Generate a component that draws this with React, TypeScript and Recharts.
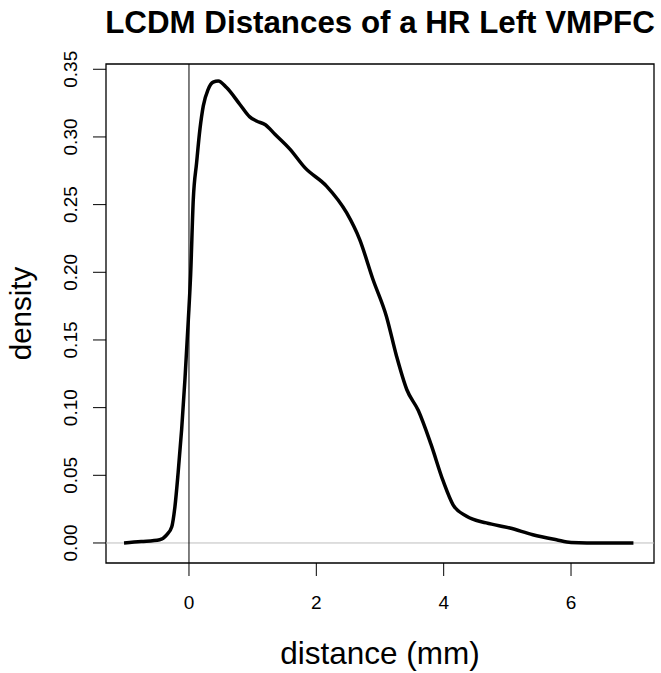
import React from "react";
import { LineChart, Line, XAxis, YAxis, ReferenceLine, ReferenceArea } from "recharts";

const distance = [
  -1.02, -0.75, -0.46, -0.35, -0.27, -0.22, -0.17, -0.115, -0.063, -0.01, 0.026, 0.068, 0.12, 0.173,
  0.225, 0.3, 0.38, 0.46, 0.59, 0.8, 0.95, 1.06, 1.2, 1.35, 1.585, 1.82, 2.16, 2.475, 2.68, 2.89,
  3.1, 3.26, 3.42, 3.6, 3.8, 3.99, 4.15, 4.36, 4.67, 5.04, 5.4, 5.77, 6.0, 6.5, 6.98,
];
const density = [
  0.0, 0.001, 0.0024, 0.006, 0.012, 0.027, 0.052, 0.084, 0.121, 0.165, 0.198, 0.254, 0.281, 0.306,
  0.323, 0.335, 0.3405, 0.3414, 0.3365, 0.324, 0.315, 0.3118, 0.309, 0.302, 0.291, 0.2773, 0.2637,
  0.244, 0.2243, 0.1947, 0.1676, 0.138, 0.1134, 0.098, 0.073, 0.046, 0.028, 0.0197, 0.0148,
  0.0111, 0.0061, 0.0024, 0.0004, 0.0, 0.0,
];
const xTicks = [0, 2, 4, 6];
const yTicks = [0, 0.05, 0.1, 0.15, 0.2, 0.25, 0.3, 0.35];
const yTickLabels = ["0.00", "0.05", "0.10", "0.15", "0.20", "0.25", "0.30", "0.35"];
const xDomain: [number, number] = [-1.303, 7.303];
const yDomain: [number, number] = [-0.0148, 0.3539];

const title = "LCDM Distances of a HR Left VMPFC";
const xLabel = "distance (mm)";
const yLabel = "density";

const data = distance.map((d, i) => ({ x: d, y: density[i] }));
const FONT = "'Liberation Sans', Arial, sans-serif";

const XTick = (props: any) => {
  const { x, y, payload } = props;
  return (
    <text x={x} y={y + 31} textAnchor="middle" fontFamily={FONT} fontSize={19} fill="#000">
      {String(payload.value)}
    </text>
  );
};

const YTick = (props: any) => {
  const { x, y, payload } = props;
  const idx = yTicks.findIndex((t) => Math.abs(t - payload.value) < 1e-9);
  const label = idx >= 0 ? yTickLabels[idx] : String(payload.value);
  const bx = x - 14;
  return (
    <text
      x={bx}
      y={y}
      transform={`rotate(-90 ${bx} ${y})`}
      textAnchor="middle"
      fontFamily={FONT}
      fontSize={19}
      fill="#000"
    >
      {label}
    </text>
  );
};

export default function App() {
  return (
    <div style={{ position: "absolute", left: 0, top: 0, width: 661, height: 673, background: "#fff" }}>
      <LineChart width={661} height={673} data={data} margin={{ top: 64, right: 7, bottom: 0, left: 0 }}>
        <XAxis
          type="number"
          dataKey="x"
          domain={xDomain}
          allowDataOverflow
          ticks={xTicks}
          tickSize={13}
          tickLine={{ stroke: "#000", strokeWidth: 1 }}
          axisLine={false}
          height={110}
          tick={<XTick />}
          interval={0}
        />
        <YAxis
          type="number"
          dataKey="y"
          domain={yDomain}
          allowDataOverflow
          ticks={yTicks}
          tickSize={13}
          tickLine={{ stroke: "#000", strokeWidth: 1 }}
          axisLine={false}
          width={106}
          tick={<YTick />}
          interval={0}
        />
        <ReferenceLine y={0} stroke="#bebebe" strokeWidth={1} />
        <ReferenceLine x={0} stroke="#000" strokeWidth={1} />
        <Line
          type="monotone"
          dataKey="y"
          stroke="#000"
          strokeWidth={3.5}
          dot={false}
          isAnimationActive={false}
        />
        <ReferenceArea
          x1={xDomain[0]}
          x2={xDomain[1]}
          y1={yDomain[0]}
          y2={yDomain[1]}
          fill="none"
          fillOpacity={0}
          stroke="#000"
          strokeWidth={1.3}
          ifOverflow="visible"
        />
      </LineChart>
      <svg
        width={661}
        height={673}
        style={{ position: "absolute", left: 0, top: 0, pointerEvents: "none" }}
      >
        <text x={380} y={33} textAnchor="middle" fontFamily={FONT} fontWeight="bold" fontSize={31.3} fill="#000">
          {title}
        </text>
        <text x={380} y={664} textAnchor="middle" fontFamily={FONT} fontSize={31.5} fill="#000">
          {xLabel}
        </text>
        <text
          x={31}
          y={313.5}
          transform="rotate(-90 31 313.5)"
          textAnchor="middle"
          fontFamily={FONT}
          fontSize={29.5}
          fill="#000"
        >
          {yLabel}
        </text>
      </svg>
    </div>
  );
}
